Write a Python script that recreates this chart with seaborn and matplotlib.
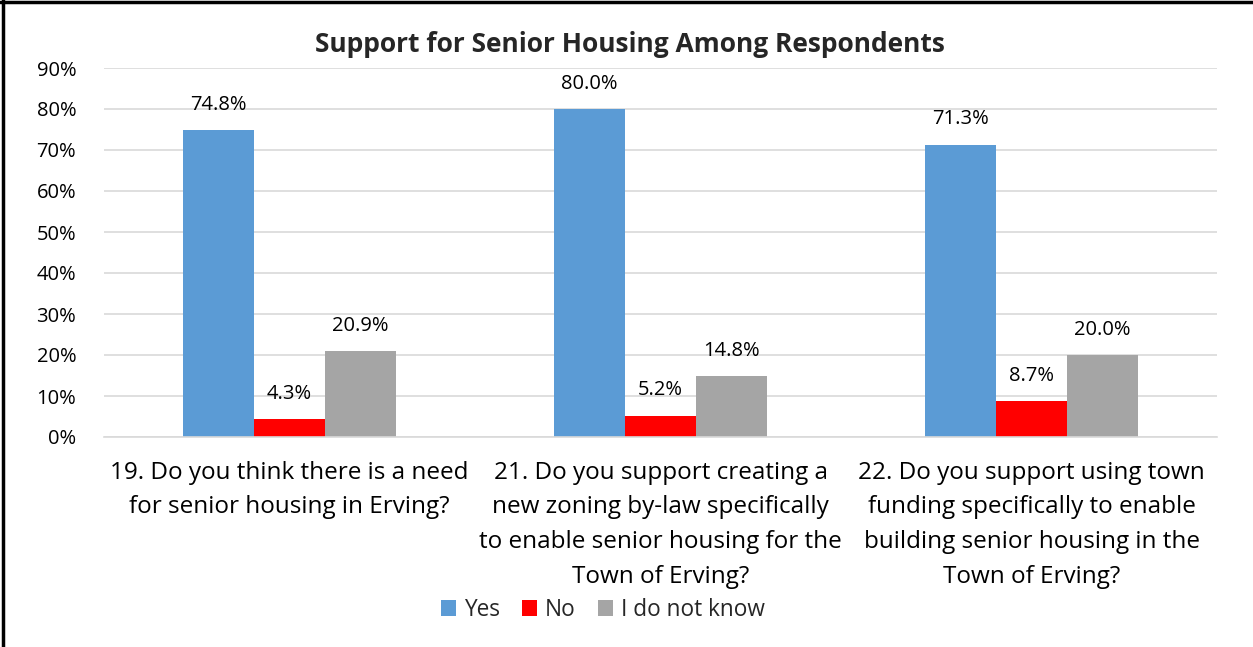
import matplotlib
matplotlib.use("Agg")
import matplotlib.pyplot as plt
import seaborn as sns
import pandas as pd
from matplotlib.ticker import FuncFormatter, MultipleLocator
from matplotlib.lines import Line2D

questions = [
    "19. Do you think there is a need\nfor senior housing in Erving?",
    "21. Do you support creating a\nnew zoning by-law specifically\nto enable senior housing for the\nTown of Erving?",
    "22. Do you support using town\nfunding specifically to enable\nbuilding senior housing in the\nTown of Erving?",
]
answers = ["Yes", "No", "I do not know"]
yes_pct = [74.8, 80.0, 71.3]
no_pct = [4.3, 5.2, 8.7]
unsure_pct = [20.9, 14.8, 20.0]
colors = ["#5B9BD5", "#FF0000", "#A5A5A5"]

rows = []
for q, y, n, u in zip(questions, yes_pct, no_pct, unsure_pct):
    for a, v in zip(answers, (y, n, u)):
        rows.append({"question": q, "answer": a, "pct": v})
df = pd.DataFrame(rows)

sns.set_theme(style="white")
plt.rcParams["font.family"] = ["Open Sans", "DejaVu Sans"]

W, H = 1253, 647
fig = plt.figure(figsize=(W / 100, H / 100), dpi=100)
ax = fig.add_axes([104 / W, 1 - 437 / H, 1113 / W, 369 / H])

sns.barplot(data=df, x="question", y="pct", hue="answer", hue_order=answers,
            palette=colors, width=0.574, saturation=1, linewidth=0, ax=ax, legend=True)

ax.set_ylim(0, 90)
ax.yaxis.set_major_locator(MultipleLocator(10))
ax.yaxis.set_major_formatter(FuncFormatter(lambda v, _: f"{v:.0f}%"))
ax.grid(axis="y", color="#D9D9D9", linewidth=1.2)
ax.set_axisbelow(True)
for s in ("top", "right", "left"):
    ax.spines[s].set_visible(False)
ax.spines["bottom"].set_color("#D9D9D9")
ax.spines["bottom"].set_linewidth(1.2)
ax.tick_params(axis="y", labelsize=14.5, colors="#000000", pad=20, length=0)
ax.tick_params(axis="x", labelsize=17.5, colors="#000000", pad=17, length=0)
for t in ax.get_xticklabels():
    t.set_linespacing(1.6)
ax.set_xlabel("")
ax.set_ylabel("")

for cont in ax.containers:
    ax.bar_label(cont, labels=[f"{v:.1f}%" for v in cont.datavalues],
                 padding=11, fontsize=14.5, color="#000000")

handles, labels = ax.get_legend_handles_labels()
ax.get_legend().remove()
fig.legend(handles, labels, loc="center", bbox_to_anchor=(603 / W, 1 - 610 / H),
           ncol=3, frameon=False, fontsize=16.3, handlelength=0.65, handleheight=0.65,
           handletextpad=0.35, columnspacing=1.0)

fig.text(630 / W, 1 - 45 / H, "Support for Senior Housing Among Respondents",
         ha="center", va="center", fontsize=19, fontweight="bold")

# outer frame lines on the top and left
fig.add_artist(Line2D([0, 1], [1 - 2 / H, 1 - 2 / H], color="black", linewidth=2.5,
                      transform=fig.transFigure))
fig.add_artist(Line2D([3 / W, 3 / W], [0, 1], color="black", linewidth=2.5,
                      transform=fig.transFigure))

fig.savefig("out.png", dpi=100)
